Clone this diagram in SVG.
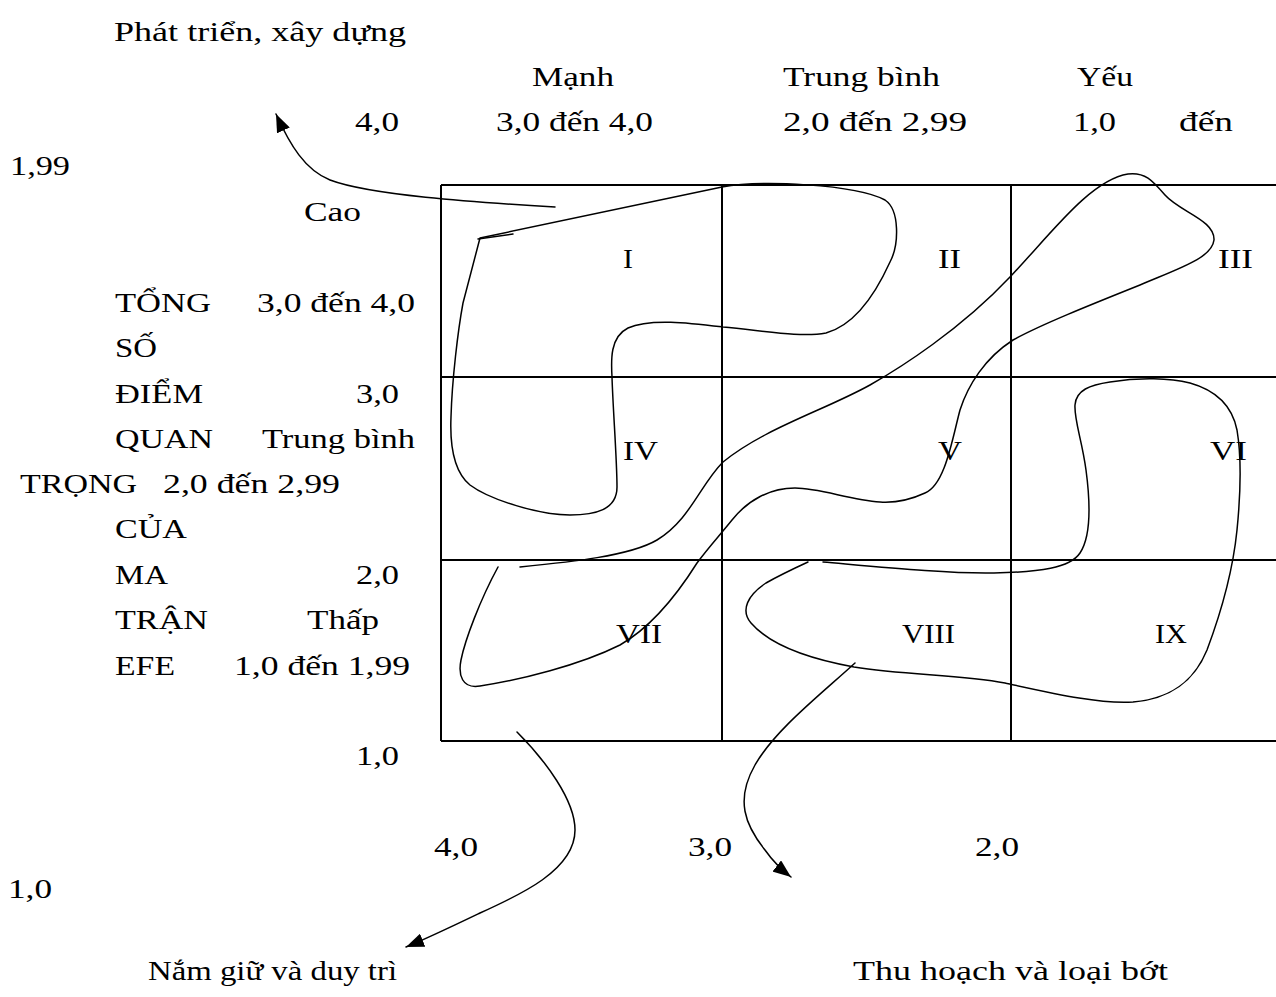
<svg xmlns="http://www.w3.org/2000/svg" width="1276" height="997" viewBox="0 0 1276 997">
<style>
text{font-family:"Liberation Serif","Times New Roman",serif;font-size:28px;fill:#000}
.g{stroke:#000;stroke-width:2;fill:none}
.c{stroke:#000;stroke-width:1.5;fill:none;stroke-linecap:round;stroke-linejoin:round}
</style>
<defs>
<marker id="ah" markerUnits="userSpaceOnUse" markerWidth="20" markerHeight="14" refX="18" refY="7" orient="auto">
<path d="M0,0 L18,7 L0,14 z" fill="#000"/>
</marker>
</defs>
<rect width="1276" height="997" fill="#fff"/>

<g id="header-labels">
<text x="114" y="41" textLength="292" lengthAdjust="spacingAndGlyphs">Phát triển, xây dựng</text>
<text x="532" y="86" textLength="82" lengthAdjust="spacingAndGlyphs">Mạnh</text>
<text x="783" y="86" textLength="157" lengthAdjust="spacingAndGlyphs">Trung bình</text>
<text x="1077" y="86" textLength="56" lengthAdjust="spacingAndGlyphs">Yếu</text>
<text x="355" y="131" textLength="44" lengthAdjust="spacingAndGlyphs">4,0</text>
<text x="496" y="131" textLength="157" lengthAdjust="spacingAndGlyphs">3,0 đến 4,0</text>
<text x="783" y="131" textLength="184" lengthAdjust="spacingAndGlyphs">2,0 đến 2,99</text>
<text x="1073" y="131" textLength="43" lengthAdjust="spacingAndGlyphs">1,0</text>
<text x="1179" y="131" textLength="54" lengthAdjust="spacingAndGlyphs">đến</text>
<text x="10" y="175" textLength="60" lengthAdjust="spacingAndGlyphs">1,99</text>
</g>

<g id="side-labels">
<text x="304" y="221" textLength="57" lengthAdjust="spacingAndGlyphs">Cao</text>
<text x="115" y="312" textLength="96" lengthAdjust="spacingAndGlyphs">TỔNG</text>
<text x="257" y="312" textLength="158" lengthAdjust="spacingAndGlyphs">3,0 đến 4,0</text>
<text x="115" y="357" textLength="42" lengthAdjust="spacingAndGlyphs">SỐ</text>
<text x="115" y="403" textLength="88" lengthAdjust="spacingAndGlyphs">ĐIỂM</text>
<text x="356" y="403" textLength="43" lengthAdjust="spacingAndGlyphs">3,0</text>
<text x="115" y="448" textLength="98" lengthAdjust="spacingAndGlyphs">QUAN</text>
<text x="262" y="448" textLength="153" lengthAdjust="spacingAndGlyphs">Trung bình</text>
<text x="20" y="493" textLength="117" lengthAdjust="spacingAndGlyphs">TRỌNG</text>
<text x="163" y="493" textLength="177" lengthAdjust="spacingAndGlyphs">2,0 đến 2,99</text>
<text x="115" y="538" textLength="72" lengthAdjust="spacingAndGlyphs">CỦA</text>
<text x="115" y="584" textLength="53" lengthAdjust="spacingAndGlyphs">MA</text>
<text x="356" y="584" textLength="43" lengthAdjust="spacingAndGlyphs">2,0</text>
<text x="115" y="629" textLength="93" lengthAdjust="spacingAndGlyphs">TRẬN</text>
<text x="307" y="629" textLength="72" lengthAdjust="spacingAndGlyphs">Thấp</text>
<text x="115" y="675" textLength="60" lengthAdjust="spacingAndGlyphs">EFE</text>
<text x="234" y="675" textLength="176" lengthAdjust="spacingAndGlyphs">1,0 đến 1,99</text>
<text x="356" y="765" textLength="43" lengthAdjust="spacingAndGlyphs">1,0</text>
</g>

<g id="grid">
<path class="g" d="M441,185 H1276 M441,377 H1276 M441,560 H1276 M441,741 H1276 M441,185 V741 M722,185 V741 M1011,185 V741"/>
</g>

<g id="cells">
<text id="cell-I" x="623" y="268" textLength="10" lengthAdjust="spacingAndGlyphs">I</text>
<text id="cell-II" x="938" y="268" textLength="23" lengthAdjust="spacingAndGlyphs">II</text>
<text id="cell-III" x="1218" y="268" textLength="35" lengthAdjust="spacingAndGlyphs">III</text>
<text id="cell-IV" x="623" y="460" textLength="35" lengthAdjust="spacingAndGlyphs">IV</text>
<text id="cell-V" x="938" y="460" textLength="24" lengthAdjust="spacingAndGlyphs">V</text>
<text id="cell-VI" x="1210" y="460" textLength="37" lengthAdjust="spacingAndGlyphs">VI</text>
<text id="cell-VII" x="616" y="643" textLength="46" lengthAdjust="spacingAndGlyphs">VII</text>
<text id="cell-VIII" x="902" y="643" textLength="53" lengthAdjust="spacingAndGlyphs">VIII</text>
<text id="cell-IX" x="1155" y="643" textLength="32" lengthAdjust="spacingAndGlyphs">IX</text>
</g>

<g id="footer-labels">
<text x="434" y="856" textLength="44" lengthAdjust="spacingAndGlyphs">4,0</text>
<text x="688" y="856" textLength="44" lengthAdjust="spacingAndGlyphs">3,0</text>
<text x="975" y="856" textLength="44" lengthAdjust="spacingAndGlyphs">2,0</text>
<text x="8" y="898" textLength="44" lengthAdjust="spacingAndGlyphs">1,0</text>
<text x="148" y="980" textLength="249" lengthAdjust="spacingAndGlyphs">Nắm giữ và duy trì</text>
<text x="853" y="980" textLength="315" lengthAdjust="spacingAndGlyphs">Thu hoạch và loại bớt</text>
</g>

<g id="connectors">
<path class="c" d="M478,239 L513,234"/>
<path class="c" d="M480,238 L722,187 C760,180 855,184 885,200 C900,210 899,245 890,262 C875,295 855,325 826,333 C800,338 760,330 723,327 C690,323 650,318 628,328 C610,337 611,360 612,377 C613,410 617,460 617,487 C617,510 595,515 570,515 C540,515 490,500 470,485 C452,470 450,440 451,417 C452,380 458,330 463,303 L480,238"/>
<path class="c" d="M520,567 C570,562 630,556 657,540 C690,520 700,485 723,462 C765,428 825,410 870,385 C900,368 960,330 1010,277 C1050,235 1090,180 1128,174 C1145,172 1152,180 1165,195 C1180,212 1215,220 1214,240 C1212,258 1180,268 1140,285 C1090,305 1040,325 1013,340 C985,358 968,385 960,410 C952,440 945,485 925,493 C910,500 895,503 880,502 C850,500 820,488 795,488 C770,488 748,500 732,520 C720,535 708,548 697,563 C680,590 655,625 620,645 C580,665 520,680 480,686 C462,689 458,675 461,660 C465,640 480,600 498,567"/>
<path class="c" d="M823,562 C880,567 950,574 994,573 C1040,572 1070,568 1080,553 C1092,535 1090,500 1086,470 C1082,440 1074,420 1075,405 C1076,390 1090,385 1110,382 C1140,377 1170,378 1190,383 C1215,390 1232,405 1237,430 C1242,460 1240,500 1237,530 C1233,570 1222,610 1207,650 C1198,672 1180,698 1133,702 C1100,704 1060,695 1005,683 C960,675 905,675 854,667 C810,659 770,645 751,623 C740,610 748,595 766,583 C780,575 795,568 808,562"/>
<path class="c" marker-end="url(#ah)" d="M555,207 C470,202 370,195 330,180 C305,170 290,145 276,114"/>
<path class="c" marker-end="url(#ah)" d="M517,732 C545,760 575,800 575,830 C575,870 520,895 480,913 C455,925 428,938 406,947"/>
<path class="c" marker-end="url(#ah)" d="M855,663 C820,695 775,730 755,765 C735,800 745,825 765,850 C772,860 782,870 791,877"/>
</g>
</svg>
